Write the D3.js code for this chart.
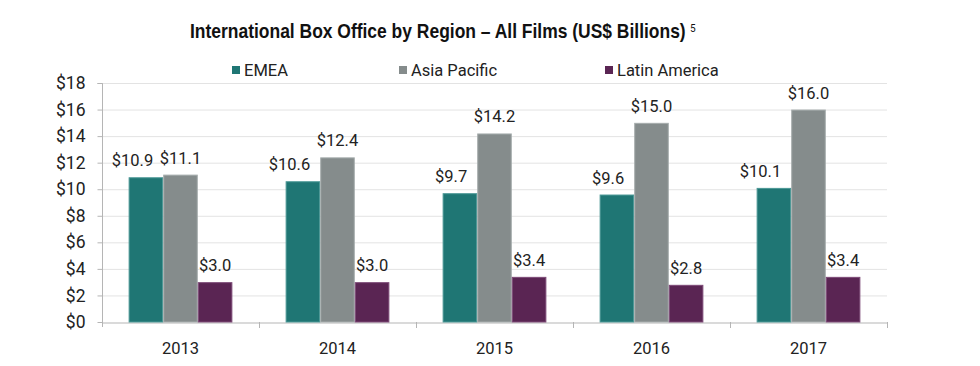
<!DOCTYPE html>
<html>
<head>
<meta charset="utf-8">
<script src="https://cdn.jsdelivr.net/npm/d3@7"></script>
<style>
  html, body { margin: 0; padding: 0; background: #fff; }
  svg { display: block; }
</style>
</head>
<body>
<svg id="chart" width="980" height="366"></svg>
<script>
const years = ["2013", "2014", "2015", "2016", "2017"];
const seriesNames = ["EMEA", "Asia Pacific", "Latin America"];
const emea = [10.9, 10.6, 9.7, 9.6, 10.1];
const asiaPacific = [11.1, 12.4, 14.2, 15.0, 16.0];
const latinAmerica = [3.0, 3.0, 3.4, 2.8, 3.4];
const yTicks = [0, 2, 4, 6, 8, 10, 12, 14, 16, 18];
const colors = ["#1f7674", "#858c8c", "#5a2553"];
const strokes = ["#4a9795", "#a6adad", "#7d4a77"];

const seriesValues = [emea, asiaPacific, latinAmerica];
const svg = d3.select("#chart");
const font = "Roboto, 'DejaVu Sans', sans-serif";

const margin = { left: 102, right: 93, top: 83, bottom: 44 };
const W = 980, H = 366;
const x0 = d3.scaleBand().domain(years).range([margin.left, W - margin.right]).padding(0);
const x1 = d3.scaleBand().domain(seriesNames).range([0, x0.bandwidth()]).paddingInner(0).paddingOuter(0.77);
const y = d3.scaleLinear().domain([0, 18]).range([H - margin.bottom, margin.top]);

// Title (horizontally condensed to mimic the narrow display face)
const titleText = svg.append("text")
  .attr("x", 0).attr("y", 0)
  .attr("font-family", "'Liberation Sans', Arial, sans-serif")
  .attr("font-weight", "bold")
  .attr("font-size", 21)
  .attr("fill", "#111")
  .text("International Box Office by Region – All Films (US$ Billions)");
const naturalW = titleText.node().getComputedTextLength();
titleText.attr("transform", `translate(190,38) scale(${496 / naturalW},1)`);
svg.append("text")
  .attr("x", 690).attr("y", 32)
  .attr("font-family", font).attr("font-size", 10).attr("fill", "#111")
  .text("5");

// Gridlines
svg.append("g").selectAll("line").data(yTicks.filter(d => d > 0)).join("line")
  .attr("x1", margin.left).attr("x2", W - margin.right)
  .attr("y1", d => y(d) + 0.5).attr("y2", d => y(d) + 0.5)
  .attr("stroke", "#e3e3e3").attr("stroke-width", 1);

// Y axis
const yAxis = svg.append("g").attr("transform", `translate(${margin.left + 0.5},0)`)
  .call(d3.axisLeft(y).tickValues(yTicks).tickSize(5).tickPadding(12).tickFormat(d => "$" + d));
yAxis.select(".domain").attr("stroke", "#b5b5b5").attr("d", `M-5,${y(18)+0.5}H0V${y(0) + 5}`);
yAxis.selectAll(".tick line").attr("stroke", "#b5b5b5");
yAxis.selectAll(".tick text").attr("font-family", font).attr("font-size", 17.5).attr("fill", "#222");

// X axis
const xAxis = svg.append("g").attr("transform", `translate(0,${y(0) + 0.5})`)
  .call(d3.axisBottom(x0).tickSize(0).tickPadding(20));
xAxis.select(".domain").attr("stroke", "#b5b5b5");
xAxis.selectAll(".tick text").attr("font-family", font).attr("font-size", 16.5).attr("fill", "#222");
svg.append("g").selectAll("line").data(years.slice(1).concat(["end"])).join("line")
  .attr("x1", (d, i) => (i < years.length - 1 ? x0(d) : x0(years[years.length - 1]) + x0.bandwidth()) + 0.5)
  .attr("x2", (d, i) => (i < years.length - 1 ? x0(d) : x0(years[years.length - 1]) + x0.bandwidth()) + 0.5)
  .attr("y1", y(0)).attr("y2", y(0) + 6)
  .attr("stroke", "#b5b5b5");

// Bars
const groups = svg.append("g").selectAll("g").data(years).join("g")
  .attr("transform", d => `translate(${x0(d)},0)`);
const barData = (yr, i) => seriesNames.map((s, k) => ({ s, k, v: seriesValues[k][i] }));
groups.selectAll("rect").data((d, i) => barData(d, i)).join("rect")
  .attr("x", d => x1(d.s) + 0.5)
  .attr("y", d => y(d.v) + 0.5)
  .attr("width", x1.bandwidth() - 1)
  .attr("height", d => y(0) - y(d.v) - 0.5)
  .attr("fill", d => colors[d.k])
  .attr("stroke", d => strokes[d.k])
  .attr("stroke-width", 1);

// Value labels
groups.selectAll("text.val").data((d, i) => barData(d, i)).join("text")
  .attr("class", "val")
  .attr("x", d => d.k === 0 ? x1(d.s) + x1.bandwidth() - 10 : x1(d.s) + x1.bandwidth() / 2)
  .attr("y", d => y(d.v) - 11)
  .attr("text-anchor", d => d.k === 0 ? "end" : "middle")
  .attr("font-family", font).attr("font-size", 16.5).attr("fill", "#222")
  .text(d => "$" + d.v.toFixed(1));

// Legend
const legendX = [232, 399, 605];
const legend = svg.append("g").selectAll("g").data(seriesNames).join("g")
  .attr("transform", (d, i) => `translate(${legendX[i]},70)`);
legend.append("rect").attr("x", 0).attr("y", -4).attr("width", 8).attr("height", 8)
  .attr("fill", (d, i) => colors[i]);
legend.append("text").attr("x", 12).attr("y", 0).attr("dy", "0.35em")
  .attr("font-family", font).attr("font-size", 16.5).attr("fill", "#222")
  .text(d => d);
</script>
</body>
</html>
